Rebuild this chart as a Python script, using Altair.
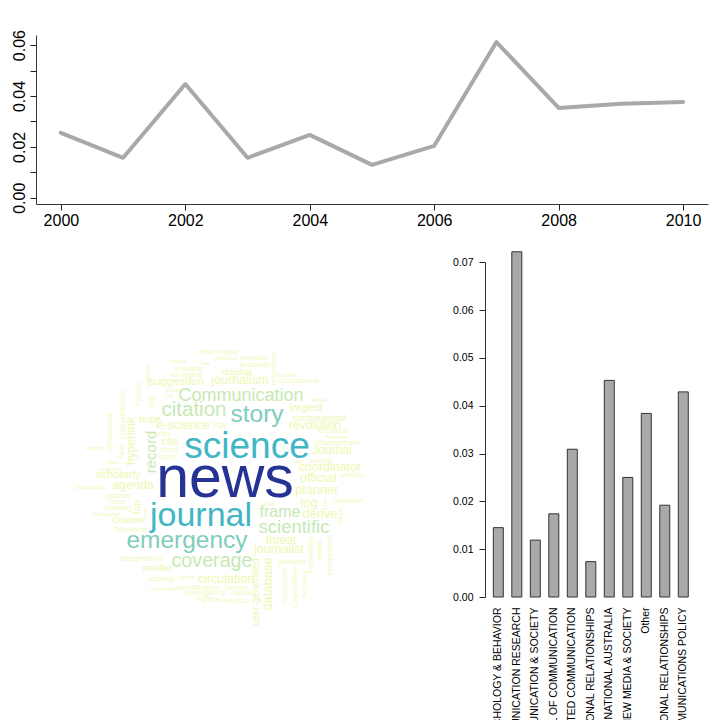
import altair as alt
import pandas as pd

# ---------------- data ----------------
years = [2000, 2001, 2002, 2003, 2004, 2005, 2006, 2007, 2008, 2009, 2010]
year_share = [0.0255, 0.0157, 0.0447, 0.0157, 0.0247, 0.0129, 0.0204, 0.0612, 0.0353, 0.0369, 0.0376]

journals = [
    "CYBERPSYCHOLOGY & BEHAVIOR",
    "COMMUNICATION RESEARCH",
    "INFORMATION, COMMUNICATION & SOCIETY",
    "EUROPEAN JOURNAL OF COMMUNICATION",
    "JOURNAL OF COMPUTER-MEDIATED COMMUNICATION",
    "JOURNAL OF SOCIAL AND PERSONAL RELATIONSHIPS",
    "MEDIA INTERNATIONAL AUSTRALIA",
    "NEW MEDIA & SOCIETY",
    "Other",
    "PERSONAL RELATIONSHIPS",
    "TELECOMMUNICATIONS POLICY",
]
journal_share = [0.0145, 0.0722, 0.0119, 0.0174, 0.0309, 0.0074, 0.0453, 0.0250, 0.0384, 0.0192, 0.0429]

words = [
    "news", "science", "journal", "emergency", "story", "Communication", "citation", "coverage",
    "frame", "scientific", "record",
    "suggestion", "e-science", "cite", "scholarly", "agenda", "journalism", "largest", "revolution",
    "Journal", "coordinator", "official", "planner", "log", "derive", "threat", "journalist",
    "circulation", "smaller", "controversial", "original", "hope", "Citation", "hand", "case", "entry",
    "hyperlink", "preparedness", "correspond", "fund", "org", "Federal", "sustainable", "top", "rescue",
    "database", "user-generated", "concerned", "Caucasians", "Recovery", "humanities", "obtain",
    "prospective", "billion", "task", "response",
    "meta-analysis", "nature", "max", "in-degree", "out-degree", "Great", "UK", "situation", "share",
    "Internet", "Organization", "balanced", "Times", "Learning", "Response", "Television",
    "differentiation", "ecology", "Reeds", "numerous", "identification", "Emergency", "legacy",
    "Service", "narrow", "Francisco", "graduate", "promise", "accurate", "donation", "occupational",
    "affiliate", "copy", "accuracy", "Business", "Management", "Day", "namely", "complex", "campaign",
    "Justice", "guidance",
]
# word-cloud layout coordinates (offsets from the cloud centre)
word_x = [
    15, 37, -9, -23, 47, 31, -16, 2,
    70, 84, -59.5,
    -34, -27, -40, -92, -77, 30, 96, 105,
    122, 120, 108, 107, 99, 110, 71, 69,
    16, -53, 109, 27, -60, -82, -41, -43, -47,
    -78.6, -87.4, -100, -88, -59, -71.5, -62.5, -73.5, -64,
    58, 46, 74.5, 84.5, 94.5, 100.5, 109.5,
    120, 131, 115, 63.5,
    8, -32, -5, -21, -24, -37, -40, -115, -97,
    -100, -120, -91, -93, -92, -103, -80,
    -69, -48, -24, -47, -12, -5, -3,
    27, 32, 23, 16, 44, 45, 78, 88,
    110, 10, 122, 127, 129, 88, 112, 142, 138,
    58, 82,
]
word_y = [
    -4, -36, 33, 58, -68, -87, -73, 78,
    29, 44, -31,
    -101, -58, -41, -8, 2, -103, -75, -58,
    -33, -16, -5, 7, 20, 31, 57, 66,
    96, 85, -65, -111, -63, 37, -33, -26, -49,
    -42, -68, -49, -31, -81, -89, -106, 24, 32,
    101, 109, 103, 104, 101, 72, 67,
    73, 33, 21, -114,
    -131, -122, -120, -114, -108, -93, -87, -35, -21,
    -14, 4, 13, 19, 25, 31, 47,
    76, 96, 94, 106, 105, 110, 116,
    105, 110, 118, -125, -125, -118, -108, -102,
    -83, -58, -52, -46, -40, -22, -22, -8, 18,
    21, 79,
]
word_size = [
    59, 37, 34, 24.5, 24.5, 18, 20.5, 19.7,
    16, 18.5, 15,
    11.5, 12.5, 10.5, 11.5, 12.5, 12.5, 11, 12,
    12, 12.5, 13, 13, 13, 13, 12, 12.5,
    12.5, 9.5, 9.5, 9.5, 10, 9.5, 7.5, 7.5, 7,
    12, 8, 8, 7, 9, 7, 5, 10, 4.5,
    13, 10, 7.5, 8, 6.5, 7.5, 7.5,
    7.5, 7, 6, 8,
    6.5, 6, 6, 7, 7, 6, 6, 5, 5,
    6, 5.5, 6.5, 6.5, 7, 6, 8,
    7, 7.5, 5.5, 6, 8, 8, 7.5,
    7, 7, 7.5, 6, 8, 8, 5.5, 7.5,
    5, 6.5, 7.5, 5.5, 7.5, 5.5, 7, 6.5, 7,
    5, 7,
]
vertical_words = [
    "record", "hyperlink", "preparedness", "correspond", "fund", "org", "Federal", "sustainable",
    "top", "rescue", "database", "user-generated", "concerned", "Caucasians", "Recovery",
    "humanities", "obtain", "prospective", "billion", "task", "response",
]
palette = ["#f5f7c0", "#edf8b1", "#c7e9b4", "#7fcdbb", "#41b6c4", "#253494"]
tier_of = {
    "news": 5, "science": 4, "journal": 4, "emergency": 3, "story": 3,
    "Communication": 2, "citation": 2, "coverage": 2, "frame": 2, "scientific": 2, "record": 2,
    "suggestion": 1, "e-science": 1, "cite": 1, "scholarly": 1, "agenda": 1, "journalism": 1,
    "largest": 1, "revolution": 1, "Journal": 1, "coordinator": 1, "official": 1, "planner": 1,
    "log": 1, "derive": 1, "threat": 1, "journalist": 1, "circulation": 1, "hyperlink": 1,
    "top": 1, "database": 1, "user-generated": 1, "smaller": 1, "controversial": 1,
    "original": 1, "hope": 1, "Citation": 1,
}

# ---------------- frames ----------------
line_df = pd.DataFrame({"year": years, "share": year_share})
bar_df = pd.DataFrame({"journal": journals, "share": journal_share})
cloud_df = pd.DataFrame({
    "word": words,
    "wx": word_x,
    "wy": word_y,
    "fs": word_size,
    "ang": [270 if w in vertical_words else 0 for w in words],
    "col": [palette[tier_of.get(w, 0)] for w in words],
})

FONT = "Liberation Sans"

# ---------------- top: line chart ----------------
line = alt.Chart(line_df).mark_line(
    color="#A9A9A9", strokeWidth=4, strokeJoin="round", strokeCap="round"
).encode(
    x=alt.X(
        "year:Q",
        scale=alt.Scale(domain=[1999.6, 2010.4], range=[36, 708], nice=False, zero=False),
        axis=alt.Axis(
            orient="bottom", offset=-516, values=[2000, 2002, 2004, 2006, 2008, 2010],
            format="d", title=None, grid=False, tickSize=6, labelPadding=2,
            labelFontSize=16, labelFont=FONT, labelColor="black", tickColor="#222",
            domainColor="#333", labelFlush=False, labelOverlap=False,
        ),
    ),
    y=alt.Y(
        "share:Q",
        scale=alt.Scale(domain=[-0.00246, 0.06396], range=[204, 35], nice=False, zero=False),
        axis=alt.Axis(
            orient="left", offset=-36, values=[0, 0.01, 0.02, 0.03, 0.04, 0.05, 0.06],
            format=".2f", labelExpr="round(datum.value*100) % 2 == 0 ? datum.label : ''",
            title=None, grid=False, tickSize=6, labelPadding=3, labelAngle=270,
            labelAlign="center", labelBaseline="bottom", labelFontSize=16, labelFont=FONT,
            labelColor="black", tickColor="#222", domainColor="#333",
            labelFlush=False, labelOverlap=False,
        ),
    ),
)

# ---------------- word cloud ----------------
cloud = alt.Chart(cloud_df).mark_text(font=FONT, align="center", baseline="middle").encode(
    x=alt.X("wx:Q", scale=alt.Scale(domain=[-150, 150], range=[60, 360], nice=False, zero=False), axis=None),
    y=alt.Y("wy:Q", scale=alt.Scale(domain=[-150, 150], range=[333, 633], nice=False, zero=False), axis=None),
    text="word:N",
    size=alt.Size("fs:Q", scale=None),
    angle=alt.Angle("ang:Q", scale=None),
    color=alt.Color("col:N", scale=None),
)

# ---------------- bar chart ----------------
bars = alt.Chart(bar_df).mark_bar(fill="#A9A9A9", stroke="#333", strokeWidth=1).encode(
    x=alt.X(
        "journal:N", sort=journals,
        scale=alt.Scale(range=[485, 696.6], paddingInner=0.46, paddingOuter=0.45),
        axis=alt.Axis(
            orient="bottom", offset=-123, domain=False, ticks=False, labelAngle=270,
            labelAlign="right", labelBaseline="middle", labelPadding=10, labelLimit=1000,
            labelFontSize=10.5, labelFont=FONT, labelColor="black", title=None,
            labelOverlap=False, labelFlush=False,
        ),
    ),
    y=alt.Y(
        "share:Q",
        scale=alt.Scale(domain=[0, 0.07], range=[597, 262.3], nice=False, zero=False),
        axis=alt.Axis(
            orient="left", offset=-485, values=[0, 0.01, 0.02, 0.03, 0.04, 0.05, 0.06, 0.07],
            format=".2f", title=None, grid=False, tickSize=6, labelPadding=6,
            labelFontSize=10.5, labelFont=FONT, labelColor="black", tickColor="#222",
            domainColor="#333", labelFlush=False, labelOverlap=False,
        ),
    ),
)

chart = alt.layer(line, cloud, bars).resolve_scale(
    x="independent", y="independent"
).properties(
    width=720, height=720, padding=0,
    autosize=alt.AutoSizeParams(type="none"),
    background="white",
).configure_view(stroke=None)

chart.save("out.html", embed_options={"renderer": "svg", "actions": False})
